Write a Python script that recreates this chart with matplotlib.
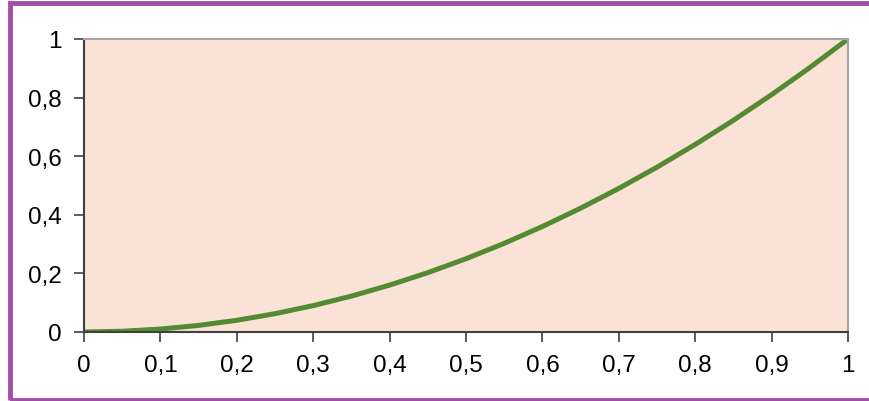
import matplotlib.pyplot as plt
from matplotlib.patches import Rectangle
import numpy as np

# values
x_vals = [0, 0.05, 0.1, 0.15, 0.2, 0.25, 0.3, 0.35, 0.4, 0.45, 0.5,
          0.55, 0.6, 0.65, 0.7, 0.75, 0.8, 0.85, 0.9, 0.95, 1.0]
y_vals = [0, 0.0025, 0.01, 0.0225, 0.04, 0.0625, 0.09, 0.1225, 0.16, 0.2025, 0.25,
          0.3025, 0.36, 0.4225, 0.49, 0.5625, 0.64, 0.7225, 0.81, 0.9025, 1.0]
x_ticks = [0, 0.1, 0.2, 0.3, 0.4, 0.5, 0.6, 0.7, 0.8, 0.9, 1]
x_labels = ["0", "0,1", "0,2", "0,3", "0,4", "0,5", "0,6", "0,7", "0,8", "0,9", "1"]
y_ticks = [0, 0.2, 0.4, 0.6, 0.8, 1]
y_labels = ["0", "0,2", "0,4", "0,6", "0,8", "1"]

plt.rcParams['font.family'] = ['Liberation Sans', 'DejaVu Sans']

fig = plt.figure(figsize=(8.7, 4.02), dpi=100)
ax = fig.add_axes([84/870, 1 - 333/402, (848 - 84)/870, (333 - 40)/402])
ax.set_facecolor('#fae3d6')

ax.plot(x_vals, y_vals, color='#548a32', lw=3.6, solid_capstyle='round')

ax.set_xlim(0, 1)
ax.set_ylim(0, 1)
ax.set_xticks(x_ticks)
ax.set_xticklabels(x_labels)
ax.set_yticks(y_ticks)
ax.set_yticklabels(y_labels)
ax.tick_params(direction='out', length=7, width=1.2, color='#404040',
               labelsize=17.5)
ax.tick_params(axis='x', pad=8.5)
ax.tick_params(axis='y', pad=9)

for s in ['top', 'right']:
    ax.spines[s].set_color('#a6a6a6')
    ax.spines[s].set_linewidth(1.5)
for s in ['left', 'bottom']:
    ax.spines[s].set_color('#404040')
    ax.spines[s].set_linewidth(1.5)

# purple frame around the figure
fig.patches.append(Rectangle((10.5/870, 1.5/402), 900/870, (398.5 - 1.5)/402,
                             transform=fig.transFigure, fill=False,
                             edgecolor='#a54ea5', lw=3.5, clip_on=False))

fig.savefig('out.png', dpi=100)
